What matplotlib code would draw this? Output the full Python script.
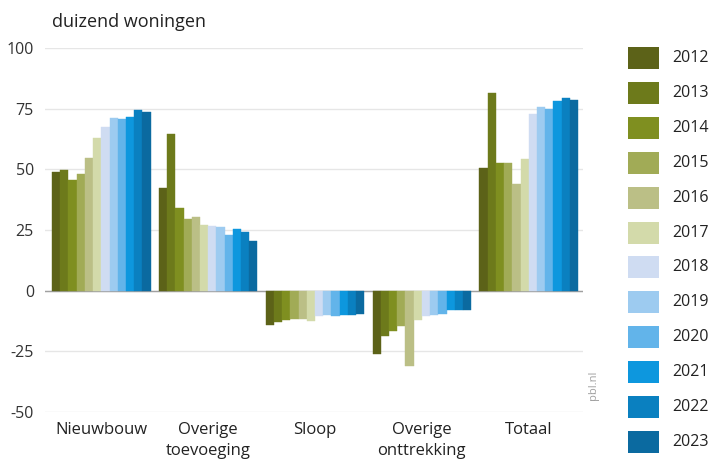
import numpy as np
import matplotlib
matplotlib.use("Agg")
import matplotlib.pyplot as plt
from matplotlib.patches import Rectangle

plt.rcParams["font.family"] = ["Open Sans", "DejaVu Sans"]

# ── Data (duizend woningen) ───────────────────────────────
categories = ["Nieuwbouw", "Overige\ntoevoeging", "Sloop",
              "Overige\nonttrekking", "Totaal"]
years = ["2012", "2013", "2014", "2015", "2016", "2017",
         "2018", "2019", "2020", "2021", "2022", "2023"]

nieuwbouw = [48.7, 49.7, 45.8, 48.0, 54.6, 63.0, 67.5, 71.3, 70.8, 71.6, 74.6, 73.8]
overige_toevoeging = [42.3, 64.5, 34.0, 29.5, 30.5, 27.2, 26.5, 26.3, 23.0, 25.4, 24.0, 20.6]
sloop = [-14.0, -13.0, -12.0, -11.5, -11.5, -12.5, -10.5, -10.0, -10.5, -10.0, -10.0, -9.5]
overige_onttrekking = [-26.0, -18.5, -16.5, -14.5, -31.0, -12.0, -10.5, -10.0, -9.5, -8.0, -8.0, -8.0]
totaal = [50.7, 81.6, 52.8, 52.8, 43.9, 54.2, 72.7, 75.7, 74.8, 78.2, 79.3, 78.5]

colors = ["#5c6218", "#6d7a1b", "#7f8f20", "#a1ab56", "#bbbf86", "#d3daaa",
          "#cfdcf2", "#9dcbf0", "#62b4ea", "#0d97de", "#0a80c0", "#0b6aa0"]

series = [nieuwbouw, overige_toevoeging, sloop, overige_onttrekking, totaal]
values = np.array(series)  # shape (categorie, jaar)

# ── Figuur ────────────────────────────────────────────────
W, H = 718, 461
fig = plt.figure(figsize=(W / 100, H / 100), dpi=100)
ax = fig.add_axes([45 / W, 49 / H, (583 - 45) / W, (412 - 48) / H])

group_step = len(years) + 1
for j, (yr, col) in enumerate(zip(years, colors)):
    x = np.arange(len(categories)) * group_step + j
    ax.bar(x, values[:, j], width=1.0, color=col, edgecolor=col,
           linewidth=0.3, zorder=3)

ax.set_xlim(-1.35, 4 * group_step + 12.1)
ax.set_ylim(-50, 100)
ax.set_yticks([-50, -25, 0, 25, 50, 75, 100])
ax.set_yticklabels(["-50", "-25", "0", "25", "50", "75", "100"],
                   fontsize=11.5, color="#333333")
ax.tick_params(axis="y", length=0, pad=8)

centers = np.arange(len(categories)) * group_step + (len(years) - 1) / 2
ax.set_xticks(centers)
ax.set_xticklabels(categories, fontsize=12, color="#222222", va="top",
                   linespacing=1.45)
ax.tick_params(axis="x", length=0, pad=7)

for s in ax.spines.values():
    s.set_visible(False)
ax.grid(axis="y", color="#e6e6e6", lw=1, zorder=0)
ax.axhline(0, color="#a0a0a0", lw=1, zorder=2)

fig.text(52 / W, 1 - 22 / H, "duizend woningen", fontsize=13,
         color="#222222", va="center", ha="left")
fig.text(594 / W, 1 - 385 / H, "pbl.nl", fontsize=8, color="#a0a0a0",
         rotation=90, va="center", ha="center")

# ── Legend (handmatig) ────────────────────────────────────
lax = fig.add_axes([0, 0, 1, 1], zorder=5)
lax.set_xlim(0, W)
lax.set_ylim(H, 0)
lax.axis("off")
for j, (yr, col) in enumerate(zip(years, colors)):
    yc = 58.3 + j * 34.85
    lax.add_patch(Rectangle((628, yc - 11), 31, 22, color=col, lw=0))
    lax.text(672, yc, yr, fontsize=11.5, color="#222222", va="center", ha="left")

fig.savefig("out.png", dpi=100)
